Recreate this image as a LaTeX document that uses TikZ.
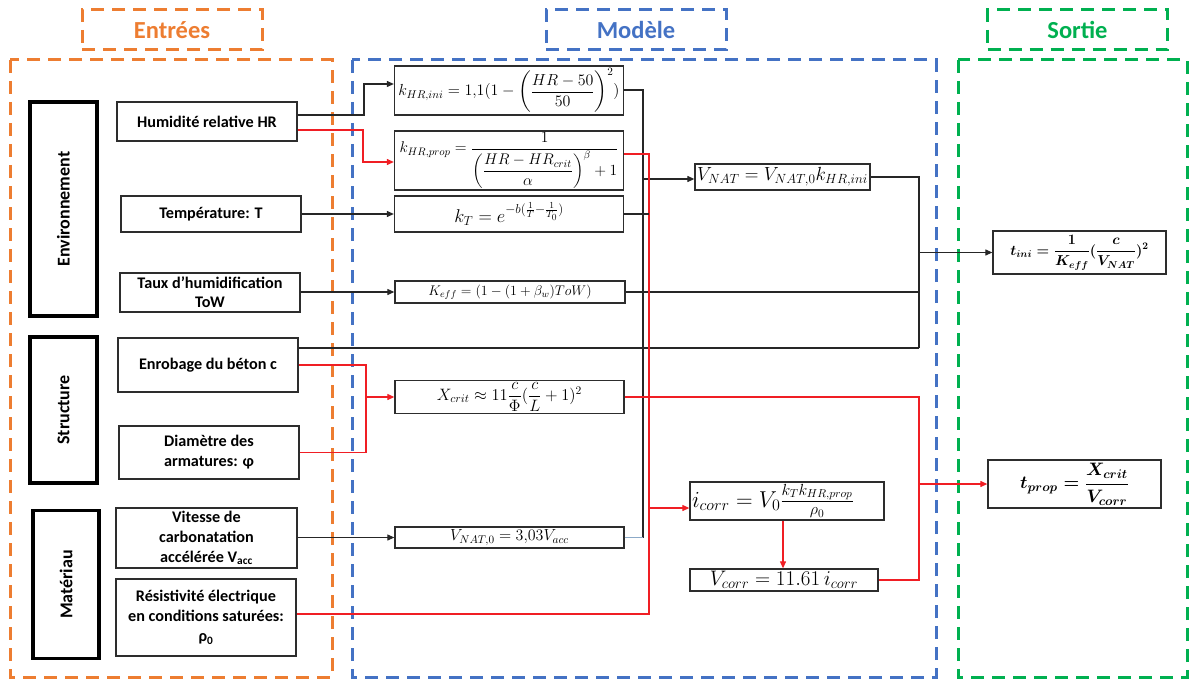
\RequirePackage{fix-cm}
\documentclass[tikz,border=0pt]{standalone}
\usepackage{amsmath}
\usepackage{fontspec}
\setmainfont{Carlito}
\usetikzlibrary{arrows.meta}
\definecolor{orangeC}{RGB}{237,125,49}
\definecolor{blueC}{RGB}{68,114,196}
\definecolor{greenC}{RGB}{0,176,80}
\definecolor{redC}{RGB}{240,30,36}
\definecolor{boxgray}{RGB}{45,45,45}
\definecolor{slateC}{RGB}{140,170,200}
\newcommand{\fsz}[1]{\fontsize{#1}{20}\selectfont}
\tikzset{
  inbox/.style={draw=boxgray, line width=1.3pt, fill=white, align=center, inner sep=2pt,
    font=\fontsize{16.2}{20}\selectfont\bfseries},
  catbox/.style={draw=black, line width=3.5pt, rotate=90, inner sep=2pt,
    font=\fontsize{18}{22}\selectfont\bfseries},
  eqbox/.style={draw=boxgray, line width=1.3pt, fill=white, inner sep=1pt,
    font=\fsz{15}},
  frame/.style={line width=3pt, dash pattern=on 13pt off 8pt},
  hdr/.style={frame, draw=#1, text=#1, font=\fontsize{24.5}{28}\selectfont\bfseries,
    minimum width=180pt, minimum height=40pt},
  conn/.style={line width=1.1pt, draw=black!85},
  rconn/.style={line width=1.1pt, draw=redC},
  arr/.style={-{Triangle[length=7pt,width=6pt]}},
}
\begin{document}
\begin{tikzpicture}[x=1pt,y=-1pt]
\useasboundingbox (0,0) rectangle (1190,679);
% headers
\node[hdr=orangeC] (hE) at (172,30) {Entrées};
\node[hdr=blueC] (hM) at (636,30) {Modèle};
\node[hdr=greenC] (hS) at (1077.5,30) {Sortie};
% big frames
\draw[frame, draw=orangeC] (10,60) rectangle (332,677);
\draw[frame, draw=blueC] (352,60) rectangle (936,677);
\draw[frame, draw=greenC] (958,60) rectangle (1187,677);
% category boxes
\node[catbox, minimum width=214pt, minimum height=67pt] (env) at (63.5,209) {Environnement};
\node[catbox, minimum width=146pt, minimum height=67pt] (stru) at (63.5,410) {Structure};
\node[catbox, minimum width=148pt, minimum height=66pt] (mat) at (66,584.5) {Matériau};
% inputs
\node[inbox, minimum width=180pt, minimum height=39pt] (hum) at (207,121.5) {Humidité relative HR};
\node[inbox, minimum width=180pt, minimum height=36pt] (temp) at (211,214) {Température: T};
\node[inbox, minimum width=180pt, minimum height=39pt, font=\fontsize{16.2}{19}\selectfont\bfseries] (taux) at (210,292.5) {Taux d’humidification\\ToW};
\node[inbox, minimum width=180pt, minimum height=54pt] (enrob) at (208,365) {Enrobage du béton c};
\node[inbox, minimum width=180pt, minimum height=53pt] (diam) at (209,452.5) {Diamètre des\\armatures: φ};
\node[inbox, minimum width=181pt, minimum height=60pt] (vit) at (206.5,538) {Vitesse de\\carbonatation\\accélérée V\textsubscript{acc}};
\node[inbox, minimum width=180pt, minimum height=77pt] (res) at (206,617.5) {Résistivité électrique\\en conditions saturées:\\ρ\textsubscript{0}};
% model equations
\node[eqbox, minimum width=229pt, minimum height=49pt, font=\fsz{16}] (kini) at (509,90.5)
  {$k_{HR,ini}=1{,}1(1-\left(\dfrac{HR-50}{50}\right)^{2})$};
\node[eqbox, minimum width=229pt, minimum height=59pt, font=\fsz{15.5}] (kprop) at (509,160.5)
  {$k_{HR,prop}=\dfrac{1}{\left(\dfrac{HR-HR_{crit}}{\alpha}\right)^{\beta}+1}$};
\node[eqbox, minimum width=229pt, minimum height=36pt, font=\fsz{18.5}] (kT) at (509,214)
  {$k_T=e^{-b(\frac{1}{T}-\frac{1}{T_0})}$};
\node[eqbox, minimum width=230pt, minimum height=22pt, font=\fsz{14}] (keff) at (510,292)
  {$K_{eff}=(1-(1+\beta_w)ToW)$};
\node[eqbox, minimum width=229pt, minimum height=33pt, font=\fsz{16.5}] (xcrit) at (509.5,397)
  {$X_{crit}\approx 11\dfrac{c}{\Phi}(\dfrac{c}{L}+1)^2$};
\node[eqbox, minimum width=229pt, minimum height=21pt, font=\fsz{16}] (vnat0) at (509.5,537.5)
  {$V_{NAT,0}=3{,}03V_{acc}$};
\node[eqbox, minimum width=175pt, minimum height=26pt, font=\fsz{19}] (vnat) at (782.5,177)
  {$V_{NAT}=V_{NAT,0}k_{HR,ini}$};
\node[eqbox, minimum width=194pt, minimum height=38pt, font=\fsz{23}] (icorr) at (787,501)
  {\makebox[190pt][l]{$i_{corr}=V_0\frac{k_Tk_{HR,prop}}{\rho_0}$}};
\node[eqbox, minimum width=188pt, minimum height=22pt, font=\fsz{21}] (vcorr) at (784,580)
  {$V_{corr}=11.61\,i_{corr}$};
% outputs
\node[eqbox, minimum width=173pt, minimum height=43pt, font=\fsz{14.4}\boldmath] (tini) at (1079.5,252.5)
  {$t_{ini}=\dfrac{1}{K_{eff}}(\dfrac{c}{V_{NAT}})^2$};
\node[eqbox, minimum width=173pt, minimum height=48pt, font=\fsz{18}\boldmath] (tprop) at (1074.5,484)
  {$t_{prop}=\dfrac{X_{crit}}{V_{corr}}$};
% junction coordinates
\coordinate (bk) at (643,90);   % black bus top
\coordinate (rb) at (649,154);  % red bus top
\coordinate (ob) at (919,177);  % output bus top
% ---- black connectors
\draw[conn, arr] (hum.east |- 0,115) -- (364,115) -- (364,84) -- (kini.west |- 0,84);
\draw[conn, arr] (temp.east) -- (kT.west);
\draw[conn, arr] (taux.east |- 0,292) -- (keff.west);
\draw[conn, arr] (vit.east |- 0,537.5) -- (vnat0.west);
\draw[conn] (kini.east |- bk) -- (bk) -- (643,537.5);
\draw[slateC, line width=1.1pt] (vnat0.east) -- (643,537.5);
\draw[conn, arr] (643,179) -- (vnat.west |- 0,179);
\draw[conn] (vnat.east) -- (ob) -- (919,348);
\draw[conn] (enrob.east |- 0,348) -- (919,348);
\draw[conn] (keff.east) -- (919,292);
\draw[conn, arr] (919,252.5) -- (tini.west);
% ---- red connectors
\draw[rconn, arr] (hum.east |- 0,130) -- (363,130) -- (363,162) -- (kprop.west |- 0,162);
\draw[rconn] (kprop.east |- rb) -- (rb) -- (649,614) -- (res.east |- 0,614);
\draw[conn] (kT.east) -- (649,214);
\draw[rconn, arr] (649,508) -- (icorr.west |- 0,508);
\draw[rconn, arr] (icorr.south -| 783,0) -- (vcorr.north -| 783,0);
\draw[rconn] (enrob.east |- 0,365) -- (366,365) -- (366,452.5) -- (diam.east);
\draw[rconn, arr] (366,397) -- (xcrit.west);
\draw[rconn] (xcrit.east) -- (919,397) -- (919,580) -- (vcorr.east);
\draw[rconn, arr] (919,484) -- (tprop.west);
\end{tikzpicture}
\end{document}
